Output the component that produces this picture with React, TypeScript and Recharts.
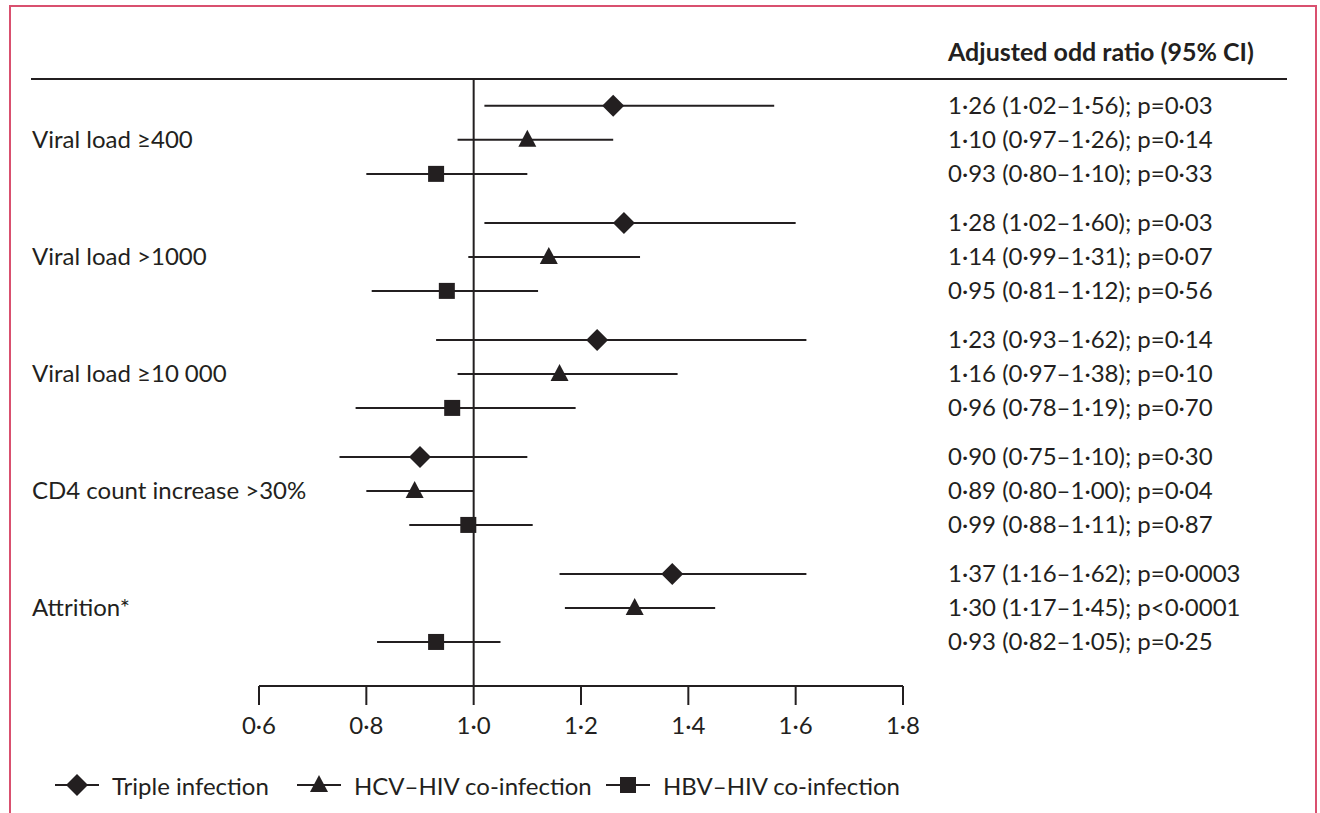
import React from 'react'
import {
    ComposedChart,
    Scatter,
    ErrorBar,
    XAxis,
    YAxis,
    ReferenceLine,
} from 'recharts'

const groups = ['Viral load ≥400', 'Viral load >1000', 'Viral load ≥10\u202F000', 'CD4 count increase >30%', 'Attrition*']
const seriesNames = ['Triple infection', 'HCV–HIV co-infection', 'HBV–HIV co-infection']

const tripleOR = [1.26, 1.28, 1.23, 0.9, 1.37]
const tripleLo = [1.02, 1.02, 0.93, 0.75, 1.16]
const tripleHi = [1.56, 1.6, 1.62, 1.1, 1.62]
const tripleP = ['=0·03', '=0·03', '=0·14', '=0·30', '=0·0003']

const hcvOR = [1.1, 1.14, 1.16, 0.89, 1.3]
const hcvLo = [0.97, 0.99, 0.97, 0.8, 1.17]
const hcvHi = [1.26, 1.31, 1.38, 1.0, 1.45]
const hcvP = ['=0·14', '=0·07', '=0·10', '=0·04', '<0·0001']

const hbvOR = [0.93, 0.95, 0.96, 0.99, 0.93]
const hbvLo = [0.8, 0.81, 0.78, 0.88, 0.82]
const hbvHi = [1.1, 1.12, 1.19, 1.11, 1.05]
const hbvP = ['=0·33', '=0·56', '=0·70', '=0·87', '=0·25']

const xTicks = [0.6, 0.8, 1.0, 1.2, 1.4, 1.6, 1.8]

const INK = '#231f20'
const FONT = 'Lato, "Open Sans", sans-serif'
const FS = 24
const GROUP_STEP = 117 / 34

const rowY = (g: number, i: number) => g * GROUP_STEP + i
const fmt = (v: number, d = 2) => v.toFixed(d).replace('.', '·')

const seriesSets = [
    { or: tripleOR, lo: tripleLo, hi: tripleHi, p: tripleP, shape: 'diamond' },
    { or: hcvOR, lo: hcvLo, hi: hcvHi, p: hcvP, shape: 'triangle' },
    { or: hbvOR, lo: hbvLo, hi: hbvHi, p: hbvP, shape: 'square' },
]

const seriesData = seriesSets.map((s, i) =>
    groups.map((_, g) => ({
        x: s.or[g],
        y: rowY(g, i),
        err: [s.or[g] - s.lo[g], s.hi[g] - s.or[g]],
    }))
)

const rowTicks: number[] = []
const rowLabels: string[] = []
groups.forEach((_, g) => {
    seriesSets.forEach((s, i) => {
        rowTicks.push(rowY(g, i))
        rowLabels.push(`${fmt(s.or[g])} (${fmt(s.lo[g])}–${fmt(s.hi[g])}); p${s.p[g]}`)
    })
})
const rowData = rowTicks.map((y) => ({ x: 1, y }))
const groupTicks = groups.map((_, g) => rowY(g, 1))

function Marker({ cx, cy, kind }: { cx: number; cy: number; kind: string }) {
    if (kind === 'diamond') {
        return <polygon points={`${cx},${cy - 11} ${cx + 11},${cy} ${cx},${cy + 11} ${cx - 11},${cy}`} fill={INK} />
    }
    if (kind === 'triangle') {
        return <polygon points={`${cx},${cy - 10} ${cx + 9},${cy + 7} ${cx - 9},${cy + 7}`} fill={INK} />
    }
    return <rect x={cx - 8} y={cy - 8} width={16} height={16} fill={INK} />
}

const findTick = (list: number[], v: any) => list.findIndex((t) => Math.abs(t - Number(v)) < 1e-6)

const GroupTick = (props: any) => (
    <text x={32} y={props.y} dy='0.35em' textAnchor='start' fontSize={FS} fontFamily={FONT} fill={INK}>
        {groups[findTick(groupTicks, props.payload.value)]}
    </text>
)

const RowTick = (props: any) => (
    <text x={948} y={props.y} dy='0.35em' textAnchor='start' fontSize={FS} fontFamily={FONT} fill={INK}>
        {rowLabels[findTick(rowTicks, props.payload.value)]}
    </text>
)

export default function App() {
    return (
        <div style={{ position: 'absolute', left: 0, top: 0, width: 1320, height: 813, background: '#fff', overflow: 'hidden', fontFamily: FONT, color: INK }}>
            <div style={{ position: 'absolute', left: 9, top: 5, width: 1304, height: 900, border: '2px solid #d9506f' }} />
            <div style={{ position: 'absolute', left: 31, top: 78, width: 1256, height: 2, background: INK }} />
            <div style={{ position: 'absolute', left: 948, top: 34, fontSize: 25, fontWeight: 700, whiteSpace: 'nowrap', lineHeight: '34px' }}>
                Adjusted odd ratio (95% CI)
            </div>
            <div style={{ position: 'absolute', left: 0, top: 0 }}>
                <ComposedChart width={1320} height={813} margin={{ top: 79, right: 0, bottom: 67, left: 32 }}>
                    <XAxis
                        type='number'
                        dataKey='x'
                        domain={[0.6, 1.8]}
                        ticks={xTicks}
                        interval={0}
                        height={60}
                        tickSize={19}
                        tickMargin={12}
                        stroke={INK}
                        axisLine={{ stroke: INK, strokeWidth: 2 }}
                        tickLine={{ stroke: INK, strokeWidth: 2 }}
                        tick={{ fontSize: FS, fontFamily: FONT, fill: INK }}
                        tickFormatter={(v: number) => fmt(v, 1)}
                    />
                    <YAxis
                        yAxisId='left'
                        type='number'
                        dataKey='y'
                        domain={[-0.79, 17.06]}
                        reversed
                        width={227}
                        ticks={groupTicks}
                        interval={0}
                        axisLine={false}
                        tickLine={false}
                        tick={<GroupTick />}
                    />
                    <YAxis
                        yAxisId='right'
                        orientation='right'
                        type='number'
                        dataKey='y'
                        domain={[-0.79, 17.06]}
                        reversed
                        width={417}
                        ticks={rowTicks}
                        interval={0}
                        axisLine={false}
                        tickLine={false}
                        tick={<RowTick />}
                    />
                    <ReferenceLine yAxisId='left' x={1} stroke={INK} strokeWidth={2} />
                    <Scatter
                        yAxisId='right'
                        data={rowData}
                        isAnimationActive={false}
                        shape={() => <g />}
                        legendType='none'
                    />
                    {seriesSets.map((s, i) => (
                        <Scatter
                            key={seriesNames[i]}
                            name={seriesNames[i]}
                            yAxisId='left'
                            data={seriesData[i]}
                            isAnimationActive={false}
                            shape={(p: any) => <Marker cx={p.cx} cy={p.cy} kind={s.shape} />}
                        >
                            <ErrorBar dataKey='err' direction='x' width={0} stroke={INK} strokeWidth={2} isAnimationActive={false} />
                        </Scatter>
                    ))}
                </ComposedChart>
            </div>
            <div style={{ position: 'absolute', left: 0, top: 770, height: 30, width: 1320 }}>
                {seriesSets.map((s, i) => {
                    const lineX = [55, 297, 606][i]
                    return (
                        <div key={seriesNames[i]} style={{ position: 'absolute', left: lineX, top: 0, display: 'flex', alignItems: 'center', height: 30 }}>
                            <svg width={46} height={30}>
                                <line x1={0} y1={15} x2={44} y2={15} stroke={INK} strokeWidth={2} />
                                <Marker cx={22} cy={15} kind={s.shape} />
                            </svg>
                            <span style={{ fontSize: FS, marginLeft: 11, whiteSpace: 'nowrap' }}>{seriesNames[i]}</span>
                        </div>
                    )
                })}
            </div>
        </div>
    )
}
